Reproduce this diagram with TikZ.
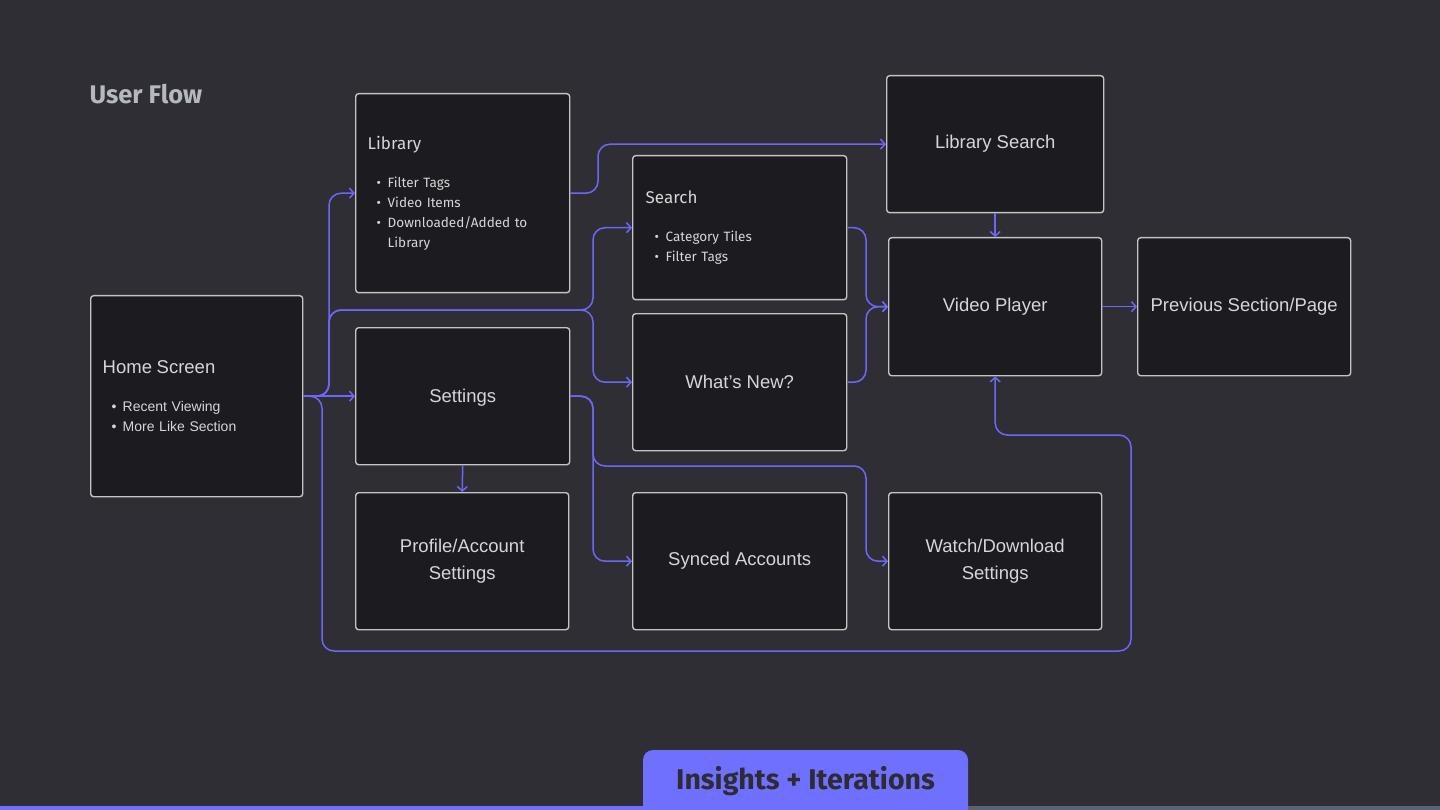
\documentclass[tikz,border=0pt]{standalone}
\usepackage{fontspec}
\setmainfont{Liberation Sans}
\newfontfamily\ubu{Fira Sans}
\usetikzlibrary{arrows.meta}
\definecolor{bg}{HTML}{2F2E35}
\definecolor{boxfill}{HTML}{1C1C20}
\definecolor{boxline}{HTML}{C4C4C4}
\definecolor{txt}{HTML}{D6D6D8}
\definecolor{flowc}{HTML}{6E66F5}
\definecolor{tabc}{HTML}{7070FF}
\definecolor{tabtxt}{HTML}{2D2C33}
\definecolor{ttl}{HTML}{B5B8BE}
\definecolor{barr}{HTML}{5C6275}
\newcommand\blt{\hspace*{9pt}\makebox[11pt][l]{\textbullet}}
\begin{document}
\begin{tikzpicture}[x=1pt,y=-1pt,
 box/.style={draw=boxline, line width=1.4pt, fill=boxfill, rounded corners=3pt, anchor=north west, inner sep=0pt, text=txt, font=\fontsize{18.5}{27}\selectfont, align=center},
 lbox/.style={box, align=left, font=\fontsize{14}{20}\selectfont},
 ubox/.style={box, align=left, font=\ubu\fontsize{13.5}{20}\selectfont},
 flow/.style={draw=flowc, line width=1.5pt, rounded corners=12pt, -{Straight Barb[length=4.5pt,width=10pt]}},
]
\fill[bg] (0,0) rectangle (1440,810);
\useasboundingbox (0,0) rectangle (1440,810);

\node[anchor=west, font=\ubu\bfseries\fontsize{25.5}{28}\selectfont, text=ttl] (title) at (86,94) {User Flow};

\node[lbox, minimum width=212, minimum height=201, text width=188] (home) at (90,295)
 {{\fontsize{18.5}{20}\selectfont Home Screen}\\[18pt]\blt Recent Viewing\\\blt More Like Section};
\node[ubox, minimum width=214, minimum height=199, text width=190] (library) at (355,93)
 {{\fontsize{17}{20}\selectfont Library}\\[18pt]\blt Filter Tags\\\blt Video Items\\\blt Downloaded/Added to\\\hspace*{20pt}Library};
\node[ubox, minimum width=214, minimum height=144, text width=188] (search) at (632,155)
 {{\fontsize{17}{20}\selectfont Search}\\[18pt]\blt Category Tiles\\\blt Filter Tags};
\node[box, minimum width=214, minimum height=137, text depth=1pt] (settings) at (355,327) {Settings};
\node[box, minimum width=213, minimum height=137] (profile) at (355,492) {Profile/Account\\Settings};
\node[box, minimum width=214, minimum height=137] (whatsnew) at (632,313) {What’s New?};
\node[box, minimum width=214, minimum height=137] (synced) at (632,492) {Synced Accounts};
\node[box, minimum width=217, minimum height=137] (libsearch) at (886,75) {Library Search};
\node[box, minimum width=213, minimum height=138] (vp) at (888,237) {Video Player};
\node[box, minimum width=213, minimum height=138] (prev) at (1137,237) {Previous Section/Page};
\node[box, minimum width=213, minimum height=137] (watch) at (888,492) {Watch/Download\\Settings};

\coordinate (bA) at (329,0);
\coordinate (bA2) at (322,0);
\coordinate (bB) at (593,0);
\coordinate (bC) at (598,0);
\coordinate (bD) at (866,0);
\coordinate (bE) at (1131,0);
\coordinate (hA) at (0,310);
\coordinate (hB) at (0,651);
\coordinate (hC) at (0,435);
\coordinate (hD) at (0,466);

\draw[flow] (home.east) -- (settings.west);
\draw[flow] (home.east) -| (bA |- library.west) -- (library.west);
\draw[flow] (home.east) -| (bA |- hA) -| (bB |- search.west) -- (search.west);
\draw[flow] (home.east) -| (bA |- hA) -| (bB |- whatsnew.west) -- (whatsnew.west);
\draw[flow] (home.east) -| (bA2 |- hB) -| (bE |- hC) -| (vp.south);
\draw[flow] (library.east) -| (bC |- libsearch.west) -- (libsearch.west);
\draw[flow] (libsearch.south) -- (vp.north);
\draw[flow] (search.east) -| (bD |- vp.west) -- (vp.west);
\draw[flow] (whatsnew.east) -| (bD |- vp.west) -- (vp.west);
\draw[flow] (vp.east) -- (prev.west);
\draw[flow] (settings.south) -- (profile.north);
\draw[flow] (settings.east) -| (bB |- synced.west) -- (synced.west);
\draw[flow] (settings.east) -| (bB |- hD) -| (bD |- watch.west) -- (watch.west);

\fill[tabc] (0,806) rectangle (968,810);
\fill[barr] (968,806) rectangle (1440,810);
\fill[tabc] (643,810) [rounded corners=10pt] -- (643,750) -- (968,750) [sharp corners] -- (968,810) -- cycle;
\node[font=\ubu\bfseries\fontsize{28.5}{32}\selectfont, text=tabtxt] (tab) at (805.5,781) {Insights + Iterations};
\end{tikzpicture}
\end{document}
